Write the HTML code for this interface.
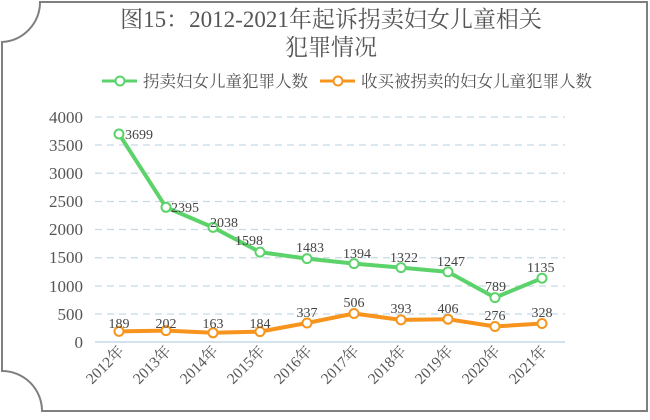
<!DOCTYPE html>
<html><head><meta charset="utf-8"><style>body{margin:0;background:#fff}</style></head><body>
<svg width="650" height="415" xmlns="http://www.w3.org/2000/svg" font-family="'Liberation Serif','Noto Serif CJK SC',serif">
<path d="M40,2 H647 V411 H42 A40,40 0 0 0 2,371 V42 A40,40 0 0 0 40,2 Z" fill="#fff" stroke="#7f7f7f" stroke-width="2"/>
<text x="331" y="27" font-size="23" text-anchor="middle" fill="#555">图15：2012-2021年起诉拐卖妇女儿童相关</text>
<text x="331" y="55" font-size="23" text-anchor="middle" fill="#555">犯罪情况</text>
<g stroke-width="3"><line x1="102" y1="81" x2="137" y2="81" stroke="#5cd36a"/><circle cx="120" cy="81" r="4.5" fill="#fff" stroke="#5cd36a" stroke-width="2"/>
<line x1="320" y1="81" x2="355" y2="81" stroke="#f7941d"/><circle cx="338" cy="81" r="4.5" fill="#fff" stroke="#f7941d" stroke-width="2"/></g>
<g font-size="16.5" fill="#555"><text x="143" y="87">拐卖妇女儿童犯罪人数</text><text x="361" y="87">收买被拐卖的妇女儿童犯罪人数</text></g>
<g stroke="#c5d9e6" stroke-width="1.3" stroke-dasharray="7,5">
<line x1="95" y1="117" x2="565" y2="117"/><line x1="95" y1="145" x2="565" y2="145"/><line x1="95" y1="173.25" x2="565" y2="173.25"/><line x1="95" y1="201.5" x2="565" y2="201.5"/><line x1="95" y1="229.5" x2="565" y2="229.5"/><line x1="95" y1="257.75" x2="565" y2="257.75"/><line x1="95" y1="286" x2="565" y2="286"/><line x1="95" y1="314" x2="565" y2="314"/></g>
<line x1="95" y1="342" x2="565" y2="342" stroke="#c5d9e6" stroke-width="1.5"/>
<g font-size="17" fill="#555" text-anchor="end"><text x="83" y="123">4000</text><text x="83" y="151">3500</text><text x="83" y="179">3000</text><text x="83" y="207">2500</text><text x="83" y="235">2000</text><text x="83" y="263">1500</text><text x="83" y="292">1000</text><text x="83" y="320">500</text><text x="83" y="348">0</text></g>
<g font-size="15.5" fill="#555" text-anchor="end">
<text transform="translate(125,352) rotate(-45)">2012年</text><text transform="translate(172,352) rotate(-45)">2013年</text><text transform="translate(219,352) rotate(-45)">2014年</text><text transform="translate(266,352) rotate(-45)">2015年</text><text transform="translate(313,352) rotate(-45)">2016年</text><text transform="translate(360,352) rotate(-45)">2017年</text><text transform="translate(407,352) rotate(-45)">2018年</text><text transform="translate(454,352) rotate(-45)">2019年</text><text transform="translate(501,352) rotate(-45)">2020年</text><text transform="translate(548,352) rotate(-45)">2021年</text></g>
<polyline fill="none" stroke="#5cd36a" stroke-width="4" stroke-linejoin="round" points="119,134 166,207.3 213,227.4 260,252.1 307,258.6 354,263.6 401,267.6 448,271.9 495,297.6 542,278.2"/>
<polyline fill="none" stroke="#f7941d" stroke-width="4" stroke-linejoin="round" points="119,331.4 166,330.6 213,332.8 260,331.6 307,323 354,313.5 401,319.9 448,319.2 495,326.5 542,323.5"/>
<g fill="#fff" stroke="#5cd36a" stroke-width="2">
<circle cx="119" cy="134" r="4.5"/><circle cx="166" cy="207.3" r="4.5"/><circle cx="213" cy="227.4" r="4.5"/><circle cx="260" cy="252.1" r="4.5"/><circle cx="307" cy="258.6" r="4.5"/><circle cx="354" cy="263.6" r="4.5"/><circle cx="401" cy="267.6" r="4.5"/><circle cx="448" cy="271.9" r="4.5"/><circle cx="495" cy="297.6" r="4.5"/><circle cx="542" cy="278.2" r="4.5"/></g>
<g fill="#fff" stroke="#f7941d" stroke-width="2">
<circle cx="119" cy="331.4" r="4.5"/><circle cx="166" cy="330.6" r="4.5"/><circle cx="213" cy="332.8" r="4.5"/><circle cx="260" cy="331.6" r="4.5"/><circle cx="307" cy="323" r="4.5"/><circle cx="354" cy="313.5" r="4.5"/><circle cx="401" cy="319.9" r="4.5"/><circle cx="448" cy="319.2" r="4.5"/><circle cx="495" cy="326.5" r="4.5"/><circle cx="542" cy="323.5" r="4.5"/></g>
<g font-size="14" fill="#444">
<text x="125" y="139">3699</text><text x="171" y="212">2395</text><text x="210" y="227">2038</text><text x="235" y="245">1598</text><text x="296" y="252">1483</text><text x="343" y="258">1394</text><text x="390" y="262">1322</text><text x="437" y="266">1247</text><text x="485" y="291">789</text><text x="527" y="272">1135</text></g>
<g font-size="14" fill="#444" text-anchor="middle">
<text x="119" y="328">189</text><text x="166" y="328">202</text><text x="213" y="328">163</text><text x="260" y="328">184</text><text x="307" y="317">337</text><text x="354" y="307">506</text><text x="401" y="313">393</text><text x="448" y="313">406</text><text x="495" y="320">276</text><text x="542" y="317">328</text></g>
</svg>
</body></html>
